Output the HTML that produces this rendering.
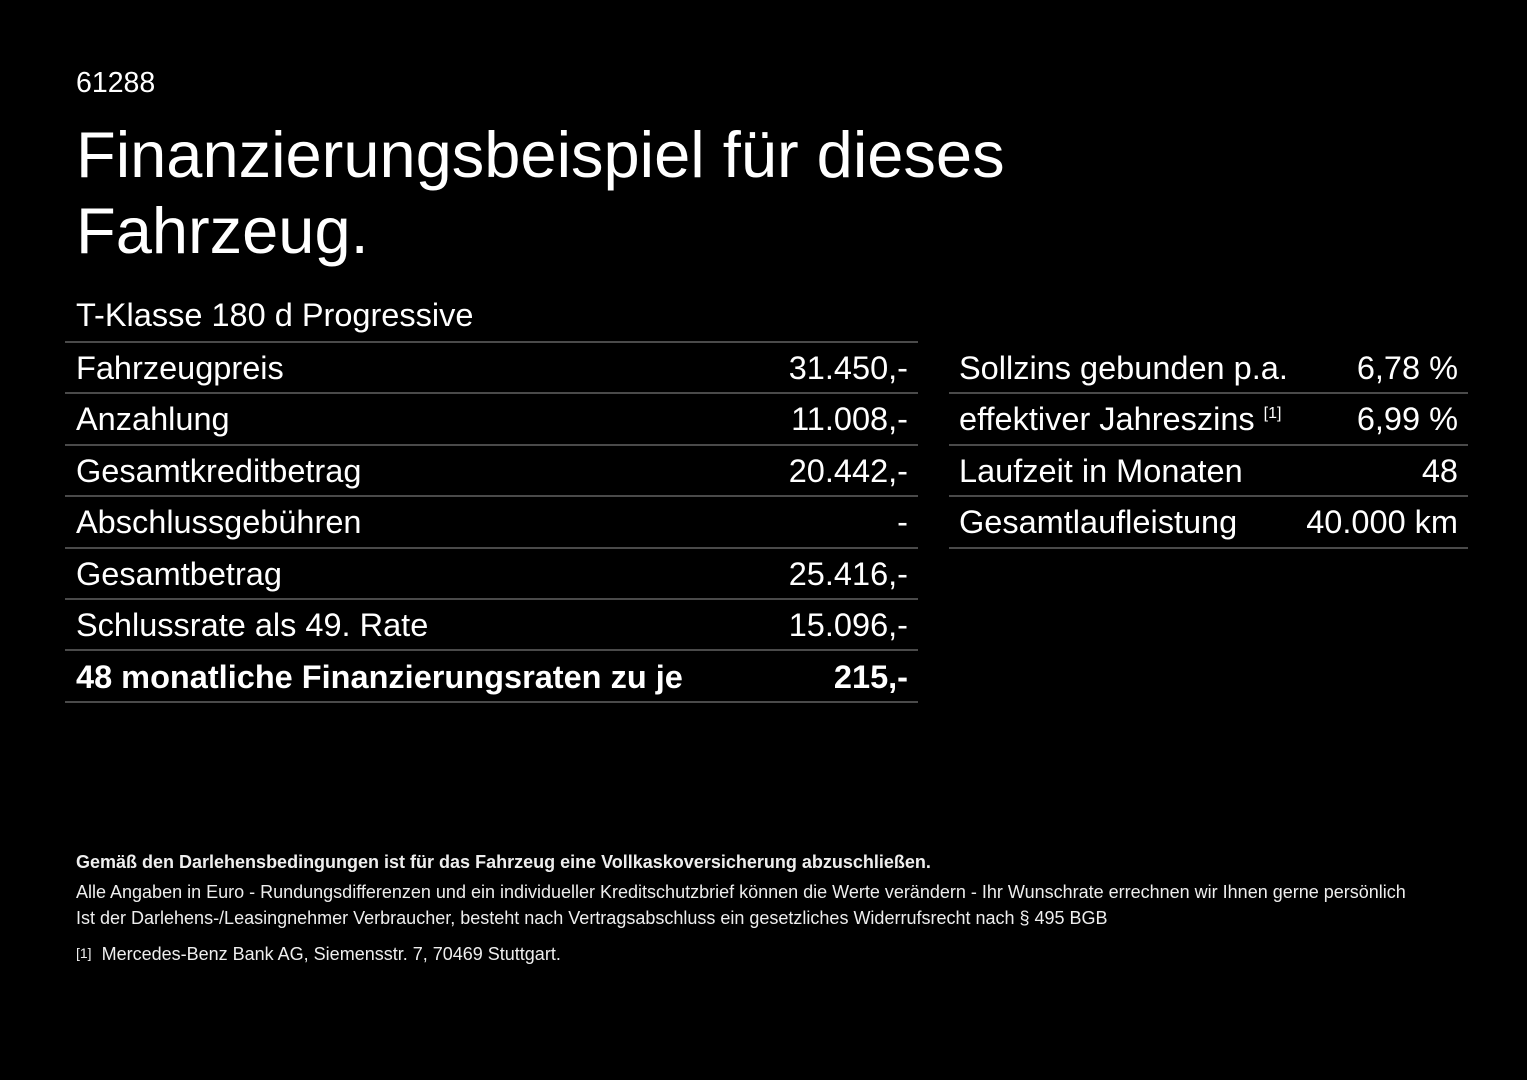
<!DOCTYPE html>
<html><head><meta charset="utf-8"><style>
body{margin:0;width:1527px;height:1080px;background:#000;color:#fff;font-family:"Liberation Sans",Arial,sans-serif;position:relative;overflow:hidden}
.a{position:absolute;white-space:nowrap}
.l{position:absolute;height:2px;background:#4a4a4a}
.r{position:absolute;font-size:32.5px;line-height:36px;white-space:nowrap}
.v{text-align:right}
.s{font-size:18px;color:#eee}
.sup{font-size:16px;position:relative;top:-12px}
</style></head><body>
<div class="a" style="left:76px;top:67px;font-size:28.5px">61288</div>
<div class="a" style="left:76px;top:117px;font-size:65px;line-height:76px">Finanzierungsbeispiel für dieses<br>Fahrzeug.</div>
<div class="a" style="left:76px;top:297px;font-size:32.5px">T-Klasse 180 d Progressive</div>

<div class="l" style="left:65px;width:853px;top:341px"></div>
<div class="l" style="left:65px;width:853px;top:392px"></div>
<div class="l" style="left:65px;width:853px;top:444px"></div>
<div class="l" style="left:65px;width:853px;top:495px"></div>
<div class="l" style="left:65px;width:853px;top:547px"></div>
<div class="l" style="left:65px;width:853px;top:598px"></div>
<div class="l" style="left:65px;width:853px;top:649px"></div>
<div class="l" style="left:65px;width:853px;top:701px"></div>

<div class="r" style="left:76px;top:350px">Fahrzeugpreis</div><div class="r v" style="right:619px;top:350px">31.450,-</div>
<div class="r" style="left:76px;top:401px">Anzahlung</div><div class="r v" style="right:619px;top:401px">11.008,-</div>
<div class="r" style="left:76px;top:453px">Gesamtkreditbetrag</div><div class="r v" style="right:619px;top:453px">20.442,-</div>
<div class="r" style="left:76px;top:504px">Abschlussgebühren</div><div class="r v" style="right:619px;top:504px">-</div>
<div class="r" style="left:76px;top:556px">Gesamtbetrag</div><div class="r v" style="right:619px;top:556px">25.416,-</div>
<div class="r" style="left:76px;top:607px">Schlussrate als 49. Rate</div><div class="r v" style="right:619px;top:607px">15.096,-</div>
<div class="r" style="left:76px;top:659px;font-weight:bold">48 monatliche Finanzierungsraten zu je</div><div class="r v" style="right:619px;top:659px;font-weight:bold">215,-</div>

<div class="l" style="left:949px;width:519px;top:392px"></div>
<div class="l" style="left:949px;width:519px;top:444px"></div>
<div class="l" style="left:949px;width:519px;top:495px"></div>
<div class="l" style="left:949px;width:519px;top:547px"></div>
<div class="r" style="left:959px;top:350px">Sollzins gebunden p.a.</div><div class="r v" style="right:69px;top:350px">6,78 %</div>
<div class="r" style="left:959px;top:401px">effektiver Jahreszins <span class="sup">[1]</span></div><div class="r v" style="right:69px;top:401px">6,99 %</div>
<div class="r" style="left:959px;top:453px">Laufzeit in Monaten</div><div class="r v" style="right:69px;top:453px">48</div>
<div class="r" style="left:959px;top:504px">Gesamtlaufleistung</div><div class="r v" style="right:69px;top:504px">40.000 km</div>

<div class="a s" style="left:76px;top:852px;font-weight:bold">Gemäß den Darlehensbedingungen ist für das Fahrzeug eine Vollkaskoversicherung abzuschließen.</div>
<div class="a s" style="left:76px;top:882px">Alle Angaben in Euro - Rundungsdifferenzen und ein individueller Kreditschutzbrief können die Werte verändern - Ihr Wunschrate errechnen wir Ihnen gerne persönlich</div>
<div class="a s" style="left:76px;top:908px">Ist der Darlehens-/Leasingnehmer Verbraucher, besteht nach Vertragsabschluss ein gesetzliches Widerrufsrecht nach § 495 BGB</div>
<div class="a s" style="left:76px;top:944px"><span style="font-size:14px;position:relative;top:-2px">[1]</span>&nbsp; Mercedes-Benz Bank AG, Siemensstr. 7, 70469 Stuttgart.</div>
</body></html>
